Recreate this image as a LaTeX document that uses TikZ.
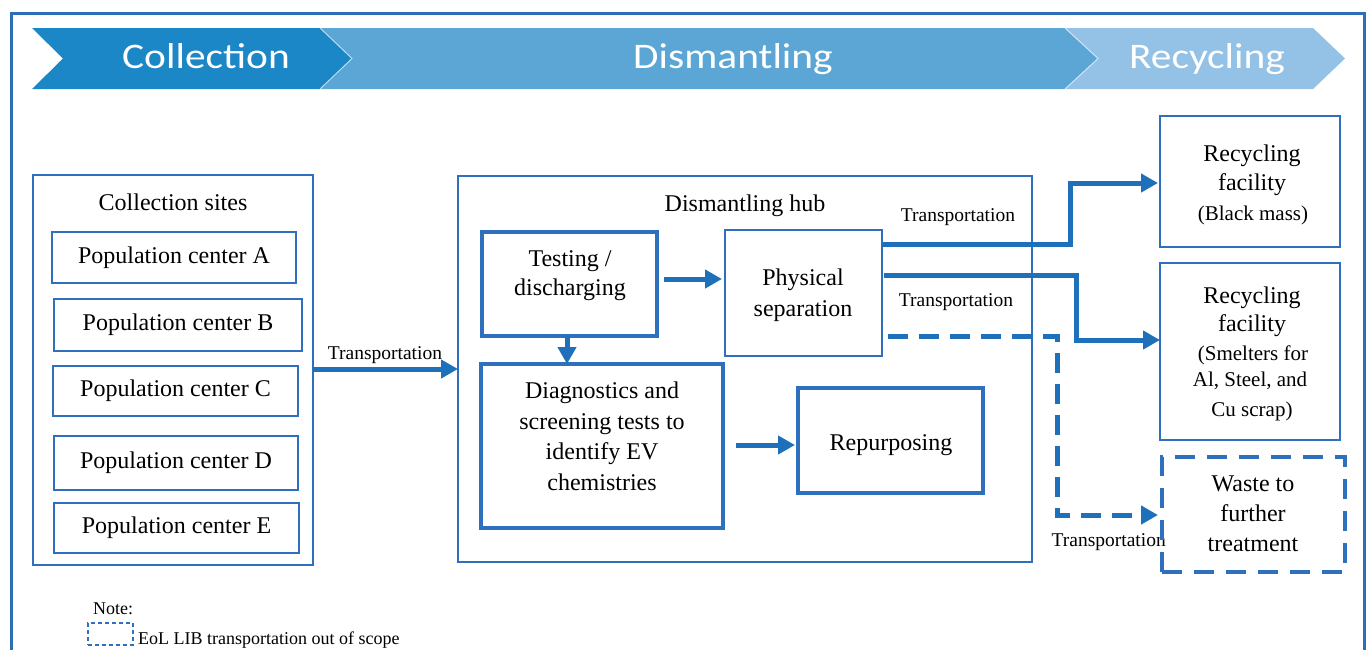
\documentclass[tikz,border=0pt]{standalone}
\usepackage{fontspec}
\setmainfont{Liberation Serif}
\newfontfamily\bannerfont{Carlito}
\usetikzlibrary{arrows.meta,calc}
\definecolor{boxblue}{RGB}{47,112,190}
\definecolor{arrowblue}{RGB}{30,112,186}
\definecolor{frameblue}{RGB}{46,110,180}
\definecolor{stageA}{RGB}{27,135,198}
\definecolor{stageB}{RGB}{92,166,213}
\definecolor{stageC}{RGB}{147,194,230}
\begin{document}
\begin{tikzpicture}[x=1pt,y=-1pt,
  thinbox/.style={draw=boxblue,line width=2pt,inner sep=0pt,outer sep=0pt},
  thickbox/.style={thinbox,line width=4.5pt},
  dashbox/.style={thickbox,dash pattern=on 20pt off 12pt},
  popbox/.style={thinbox,font=\fontsize{24}{29}\selectfont},
  lbl/.style={font=\fontsize{24}{29}\selectfont,inner sep=0pt,anchor=base},
  small/.style={font=\fontsize{21}{25}\selectfont,inner sep=0pt,anchor=base},
  tr/.style={font=\fontsize{19.5}{23}\selectfont,inner sep=0pt,anchor=base},
  note/.style={font=\fontsize{18}{22}\selectfont,inner sep=0pt,anchor=base west},
  flow/.style={draw=arrowblue,line width=5pt,-{Triangle[length=17pt,width=18pt]}},
  dflow/.style={flow,dash pattern=on 20pt off 11pt},
  stage/.style={font=\bannerfont\fontsize{36}{36}\selectfont,text=white,inner sep=0pt,anchor=base,transform shape,xscale=1.15}]
\useasboundingbox (0,0) rectangle (1372,649);

% outer frame
\draw[frameblue,line width=3pt] (11,660) -- (11,13) -- (1364,13) -- (1364,660);

% stage banner
\fill[stageA] (32,28) -- (320,28) -- (352,58.5) -- (320,89) -- (32,89) -- (63,58.5) -- cycle;
\fill[stageB] (320,28) -- (1065,28) -- (1098,58.5) -- (1065,89) -- (320,89) -- (352,58.5) -- cycle;
\fill[stageC] (1065,28) -- (1313,28) -- (1345,58.5) -- (1313,89) -- (1065,89) -- (1098,58.5) -- cycle;
\draw[white,opacity=0.6,line width=1pt] (320,28) -- (352,58.5) -- (320,89);
\draw[white,opacity=0.6,line width=1pt] (1065,28) -- (1098,58.5) -- (1065,89);
\node[stage] (stcol) at (206,68) {Collection};
\node[stage] (stdis) at (733,68) {Dismantling};
\node[stage] (strec) at (1207,68) {Recycling};

% collection sites
\node[thinbox,minimum width=280,minimum height=390] (sites) at (173,370) {};
\node[lbl] (sitestitle) at (173,210) {Collection sites};
\node[popbox,minimum width=244,minimum height=51] (popA) at (174,257.5) {Population center A};
\node[popbox,minimum width=248,minimum height=52] (popB) at (178,325) {Population center B};
\node[popbox,minimum width=245,minimum height=50] (popC) at (175.5,391) {Population center C};
\node[popbox,minimum width=244,minimum height=54] (popD) at (176,463) {Population center D};
\node[popbox,minimum width=245,minimum height=50] (popE) at (176.5,528) {Population center E};

% dismantling hub
\node[thinbox,minimum width=574,minimum height=386] (hub) at (745,369) {};
\node[lbl] (hubtitle) at (745,211) {Dismantling hub};

\node[thickbox,minimum width=175,minimum height=104] (test) at (569.5,284) {};
\node[lbl] (test1) at (570,266) {Testing /};
\node[lbl] (test2) at (570,295) {discharging};

\node[thinbox,minimum width=157,minimum height=126] (phys) at (803.5,293) {};
\node[lbl] (phys1) at (803,285) {Physical};
\node[lbl] (phys2) at (803,316) {separation};

\node[thickbox,minimum width=242,minimum height=164] (diag) at (602,446) {};
\node[lbl] (diag1) at (602,398) {Diagnostics and};
\node[lbl] (diag2) at (602,429) {screening tests to};
\node[lbl] (diag3) at (602,459) {identify EV};
\node[lbl] (diag4) at (602,490) {chemistries};

\node[thickbox,minimum width=185,minimum height=105] (rep) at (890.5,440.5) {};
\node[lbl] (rep1) at (891,450) {Repurposing};

% recycling destinations
\node[thinbox,minimum width=180,minimum height=131] (rec1) at (1250,181.5) {};
\node[lbl] (rec1a) at (1252,161) {Recycling};
\node[lbl] (rec1b) at (1252,190) {facility};
\node[small] (rec1c) at (1253,220) {(Black mass)};

\node[thinbox,minimum width=180,minimum height=177] (rec2) at (1250,351.5) {};
\node[lbl] (rec2a) at (1252,303) {Recycling};
\node[lbl] (rec2b) at (1252,331) {facility};
\node[small] (rec2c) at (1253,360) {(Smelters for};
\node[small] (rec2d) at (1250,386) {Al, Steel, and};
\node[small] (rec2e) at (1252,416) {Cu scrap)};

% transport labels
\node[tr] (trA) at (385,359) {Transportation};
\node[tr] (trB) at (958,221) {Transportation};
\node[tr] (trC) at (956,306) {Transportation};
\node[tr,anchor=base east] (trD) at (1166,546) {Transportation};

\node[dashbox,minimum width=183,minimum height=115] (waste) at (1253.5,514.5) {};
\node[lbl] (waste1) at (1253,491) {Waste to};
\node[lbl] (waste2) at (1253,521) {further};
\node[lbl] (waste3) at (1253,551) {treatment};

% flows
\draw[flow] (sites.east |- 0,369) -- (hub.west |- 0,369);
\draw[flow] ($(test.east |- 0,279)+(7,0)$) -- ($(phys.west |- 0,279)+(-3,0)$);
\draw[flow] (test.south -| 567,0) -- (diag.north -| 567,0);
\draw[flow] ($(diag.east)+(13,-1)$) -- ($(rep.west |- diag.east)+(-3,-1)$);
\draw[flow] (phys.east |- 0,244) -- ++(188,0) |- ($(rec1.west)+(-2,1.5)$);
\draw[flow] ($(phys.east |- 0,275)+(2,0)$) -- ++(192,0) |- ($(rec2.west)+(0,-11.5)$);
\draw[dflow] ($(phys.east |- 0,336)+(6,0)$) -- ++(169,0) |- ($(waste.west)+(-4,0.5)$);

% legend
\node[note] (notehead) at (93,614) {Note:};
\node[draw=boxblue,line width=1.8pt,dash pattern=on 4pt off 3pt,inner sep=0pt,minimum width=45,minimum height=22] (legbox) at (110.5,634) {};
\node[note] (notetext) at (138,644) {EoL LIB transportation out of scope};
\end{tikzpicture}
\end{document}
